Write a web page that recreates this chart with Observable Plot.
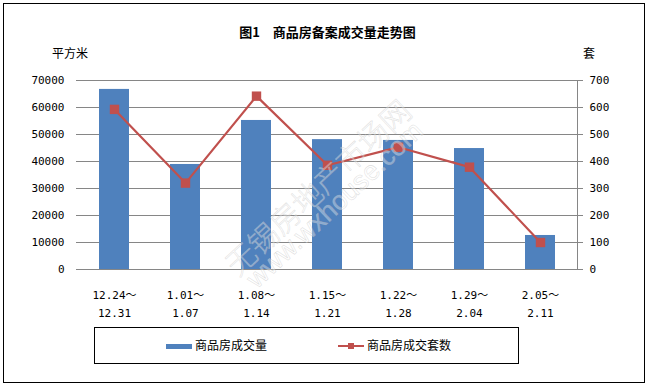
<!DOCTYPE html>
<html><head><meta charset="utf-8">
<script src="https://cdn.jsdelivr.net/npm/d3@7"></script>
<script src="https://cdn.jsdelivr.net/npm/@observablehq/plot@0.6"></script>
<style>
body{margin:0;background:#fff;}
#wrap{position:relative;width:650px;height:385px;overflow:hidden;background:#fff;font-family:"Noto Sans CJK SC",sans-serif;color:#000;}
#border{position:absolute;left:3px;top:3px;width:642px;height:380px;border:1px solid #000;box-sizing:border-box;pointer-events:none;}
#title{position:absolute;left:0;top:24px;width:655px;height:16px;line-height:16px;text-align:center;font-size:13px;font-weight:bold;}
.unit{position:absolute;top:45px;height:16px;line-height:16px;font-size:12px;}
#chart{position:absolute;left:0;top:60px;}
#legend{position:absolute;left:94px;top:327px;width:425px;height:37px;border:1px solid #000;box-sizing:border-box;}
.lg{position:absolute;font-size:12px;line-height:16px;top:337px;}
.wm{position:absolute;white-space:nowrap;transform:translate(-50%,-50%) rotate(-43deg);color:rgba(255,255,255,0.35);-webkit-text-stroke:0.5px rgba(185,185,185,0.5);pointer-events:none;font-weight:300;}
</style></head>
<body>
<div id="wrap">
  <div id="title">图1　商品房备案成交量走势图</div>
  <div class="unit" style="left:52px">平方米</div>
  <div class="unit" style="left:583px">套</div>
  <div id="chart"></div>
  <div class="wm" style="left:317px;top:186px;font-size:30px;font-family:'Noto Sans CJK SC'">无锡房地产市场网</div>
  <div class="wm" style="left:335px;top:205px;font-size:27px;font-family:'Liberation Sans'">www.wxhouse.com</div>
  <div id="legend"></div>
  <div style="position:absolute;left:166px;top:344px;width:26px;height:5px;background:#4F81BD"></div>
  <div class="lg" style="left:195px">商品房成交量</div>
  <div style="position:absolute;left:338px;top:345px;width:26px;height:2px;background:#C0504D"></div>
  <div style="position:absolute;left:348px;top:343px;width:6px;height:6px;background:#C0504D"></div>
  <div class="lg" style="left:367px">商品房成交套数</div>
  <div id="border"></div>
</div>
<script>
const periods = ["12.24～\n12.31","1.01～\n1.07","1.08～\n1.14","1.15～\n1.21","1.22～\n1.28","1.29～\n2.04","2.05～\n2.11"];
const area = [66700, 38900, 55200, 48100, 47800, 44800, 12600];
const units = [593, 320, 642, 386, 453, 379, 100];
const leftTicks = [0,10000,20000,30000,40000,50000,60000,70000];
const rightTicks = [0,100,200,300,400,500,600,700];
const ratio = 100;
const data = periods.map((p,i)=>({period:p, area:area[i], units:units[i]}));

const chart = Plot.plot({
  width:650, height:262, marginTop:20, marginBottom:53, marginLeft:76, marginRight:73,
  style:{fontFamily:"'DejaVu Sans Mono','Noto Sans CJK SC',monospace", fontSize:"11px", color:"#000", background:"#fff", overflow:"visible"},
  x:{domain:periods, paddingInner:0.58, paddingOuter:0.29},
  y:{domain:[0,70000]},
  marks:[
    Plot.ruleY(leftTicks, {stroke:"#868686", strokeWidth:1}),
    Plot.barY(data,{x:"period", y:"area", fill:"#4F81BD"}),
    Plot.line(data,{x:"period", y:d=>d.units*ratio, stroke:"#C0504D", strokeWidth:2.2}),
    Plot.dot(data,{x:"period", y:d=>d.units*ratio, symbol:"square", r:5.3, fill:"#C0504D", stroke:"none"}),
    Plot.axisY(leftTicks,{anchor:"left", tickSize:0, tickPadding:12, tickFormat:d=>String(d), label:null}),
    Plot.axisY(rightTicks.map(v=>v*ratio),{anchor:"right", tickSize:5, tickPadding:7, stroke:"#868686", tickFormat:d=>String(d/ratio), label:null}),
    Plot.axisX({tickSize:0, tickPadding:17, lineHeight:1.64, label:null}),
    Plot.frame({anchor:"right", stroke:"#868686"})
  ]
});
document.getElementById("chart").appendChild(chart);
</script>
</body></html>
